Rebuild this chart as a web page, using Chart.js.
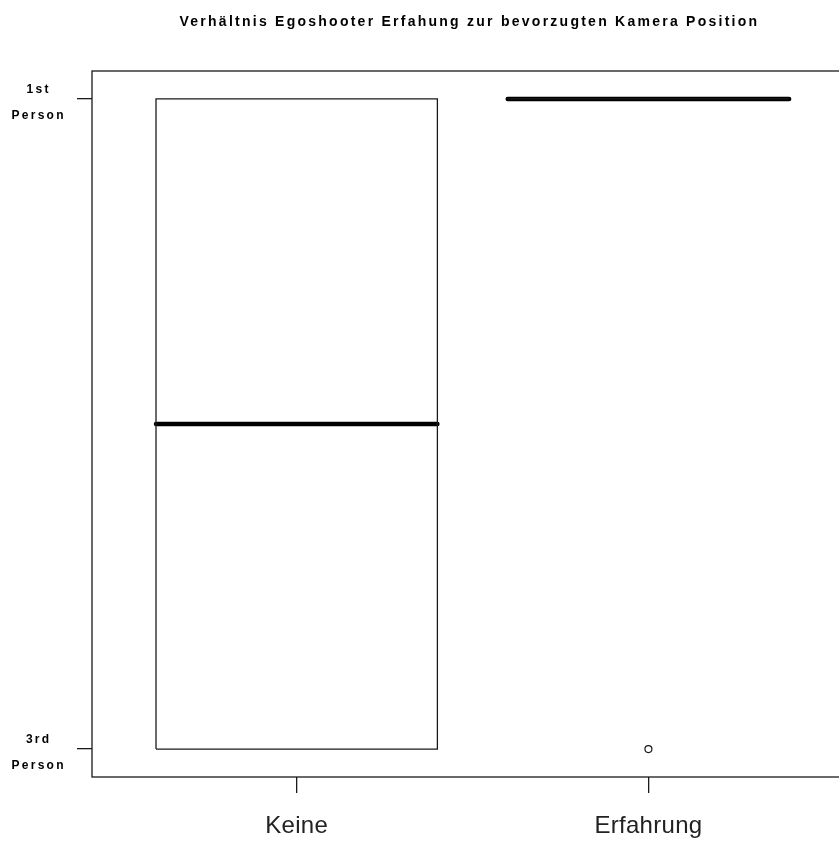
<!DOCTYPE html>
<html>
<head>
<meta charset="utf-8">
<script src="https://cdn.jsdelivr.net/npm/chart.js@4.4.0/dist/chart.umd.min.js"></script>
<style>
  html, body { margin: 0; padding: 0; background: #fff; overflow: hidden; }
  #wrap { width: 852px; height: 842px; position: relative; }
</style>
</head>
<body>
<div id="wrap"><canvas id="box-chart"></canvas></div>
<script>
// groups on the x axis
var categories = ["Keine", "Erfahrung"];
// y axis: 1 = 3rd Person, 2 = 1st Person
var yTicks = [1, 2];
var yLabels = [["3rd", "Person"], ["1st", "Person"]];
// box statistics per group
var lowWhisker = [1, 2];
var q1 = [1, 2];
var median = [1.5, 2];
var q3 = [2, 2];
var highWhisker = [2, 2];
// outliers: [group index, value]
var outliers = [[2, 1]];

var titleText = "Verhältnis Egoshooter Erfahung zur bevorzugten Kamera Position";
var halfW = 0.4;
var ink = "#1a1a1a";

var boxPts = [], medPts = [], whiskPts = [];
for (var i = 0; i < categories.length; i++) {
    var c = i + 1;
    boxPts.push({x: c - halfW, y: q1[i]}, {x: c + halfW, y: q1[i]},
                {x: c + halfW, y: q3[i]}, {x: c - halfW, y: q3[i]},
                {x: c - halfW, y: q1[i]}, {x: c, y: null});
    medPts.push({x: c - halfW, y: median[i]}, {x: c + halfW, y: median[i]}, {x: c, y: null});
    whiskPts.push({x: c, y: lowWhisker[i]}, {x: c, y: q1[i]}, {x: c, y: null},
                  {x: c, y: q3[i]}, {x: c, y: highWhisker[i]}, {x: c, y: null});
}
var outPts = outliers.map(function(o) { return {x: o[0], y: o[1]}; });

// letter spacing for title and y labels, own spacing for x labels
var spacingPlugin = {
    id: 'spacing',
    afterUpdate: function(chart) {
        var sx = chart.scales.x;
        if (sx && !sx._wrapped) {
            var orig = sx.drawLabels;
            sx.drawLabels = function(area) {
                var ctx = this.ctx;
                var old = ctx.letterSpacing;
                ctx.letterSpacing = '0.3px';
                orig.call(this, area);
                ctx.letterSpacing = old;
            };
            sx._wrapped = true;
        }
    },
    beforeDraw: function(chart) {
        chart.ctx.letterSpacing = '2.25px';
    }
};

var framePlugin = {
    id: 'frame',
    beforeDatasetsDraw: function(chart) {
        var a = chart.chartArea, ctx = chart.ctx;
        ctx.save();
        ctx.strokeStyle = ink;
        ctx.lineWidth = 1.3;
        ctx.strokeRect(a.left, a.top, a.right - a.left, a.bottom - a.top);
        ctx.restore();
    }
};

new Chart(document.getElementById("box-chart"), {
    type: 'line',
    data: {
        datasets: [{
            data: boxPts,
            borderColor: ink,
            borderWidth: 1.3,
            pointRadius: 0,
            spanGaps: false
        }, {
            data: whiskPts,
            borderColor: ink,
            borderWidth: 1.3,
            borderDash: [5, 4],
            pointRadius: 0,
            spanGaps: false
        }, {
            data: medPts,
            borderColor: '#000',
            borderWidth: 4.5,
            borderCapStyle: 'round',
            pointRadius: 0,
            spanGaps: false
        }, {
            data: outPts,
            showLine: false,
            pointStyle: 'circle',
            pointRadius: 3.5,
            pointBorderWidth: 1.2,
            pointBorderColor: ink,
            pointBackgroundColor: '#fff'
        }]
    },
    options: {
        responsive: true,
        maintainAspectRatio: false,
        animation: false,
        layout: { padding: 0 },
        plugins: {
            legend: { display: false },
            tooltip: { enabled: false },
            title: {
                display: true,
                text: titleText,
                fullSize: false,
                color: '#000',
                font: { family: 'Liberation Sans, Arial, sans-serif', size: 14, weight: 'bold', lineHeight: 1.2 },
                padding: { top: 13.4, bottom: 40.8 }
            }
        },
        scales: {
            x: {
                type: 'linear',
                min: 0.418,
                max: 2.564,
                border: { display: false },
                grid: { drawOnChartArea: false, drawTicks: true, tickLength: 16, tickColor: ink, lineWidth: 1.3 },
                afterBuildTicks: function(scale) {
                    scale.ticks = categories.map(function(c, i) { return {value: i + 1}; });
                },
                afterFit: function(scale) { scale.height = 65; },
                ticks: {
                    padding: 19,
                    color: '#222',
                    maxRotation: 0,
                    autoSkip: false,
                    font: { family: 'Liberation Sans, Arial, sans-serif', size: 24 },
                    callback: function(v) { return categories[Math.round(v) - 1]; }
                }
            },
            y: {
                type: 'linear',
                min: 0.957,
                max: 2.043,
                border: { display: false },
                grid: { drawOnChartArea: false, drawTicks: true, tickLength: 15, tickColor: ink, lineWidth: 1.3 },
                afterBuildTicks: function(scale) {
                    scale.ticks = yTicks.map(function(v) { return {value: v}; });
                },
                afterFit: function(scale) { scale.width = 92; },
                ticks: {
                    padding: 18,
                    crossAlign: 'center',
                    labelOffset: 3.5,
                    color: '#000',
                    autoSkip: false,
                    font: { family: 'Liberation Sans, Arial, sans-serif', size: 12, weight: 'bold', lineHeight: '26px' },
                    callback: function(v) { return yLabels[yTicks.indexOf(v)]; }
                }
            }
        }
    },
    plugins: [spacingPlugin, framePlugin]
});
</script>
</body>
</html>
